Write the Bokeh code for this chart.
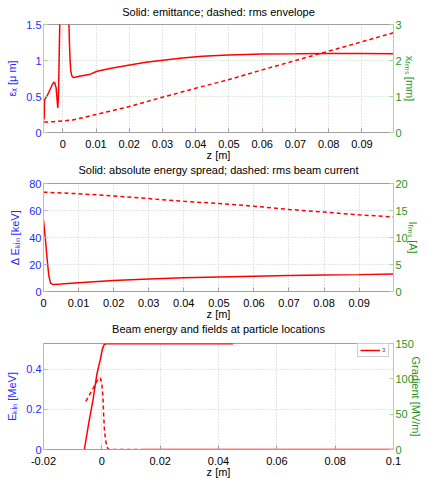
from bokeh.plotting import figure
from bokeh.models import Range1d, LinearAxis, FixedTicker, CustomJSTickFormatter, Legend, LegendItem, Title
from bokeh.layouts import column
from bokeh.embed import file_html
from bokeh.resources import INLINE

# ---------------- data ----------------
# Panel 1: emittance (um) and rms envelope (mm) vs z (m)
z_emit = [-0.0056, -0.0055, -0.0053, -0.0048, -0.0040, -0.0032, -0.0027, -0.0024, -0.0020,
          -0.0017, -0.0015, -0.0013, -0.0011, -0.0008, -0.0004, 0.0, 0.0008, 0.0014, 0.0018,
          0.0020, 0.0022, 0.0024, 0.0027, 0.0030, 0.0034, 0.005, 0.0083, 0.0103, 0.015,
          0.0206, 0.025, 0.0314, 0.036, 0.042, 0.0498, 0.06, 0.07, 0.08, 0.09, 0.0995]
emit = [0.18, 0.44, 0.47, 0.50, 0.58, 0.66, 0.70, 0.69, 0.62,
        0.45, 0.34, 0.50, 1.00, 1.80, 3.0, 3.6, 3.2, 2.2, 1.6,
        1.25, 1.0, 0.86, 0.79, 0.77, 0.765, 0.78, 0.81, 0.85, 0.895,
        0.94, 0.975, 1.01, 1.035, 1.06, 1.075, 1.09, 1.093, 1.097, 1.096, 1.093]
z_env = [-0.0056, -0.003, 0.0, 0.003, 0.006, 0.01, 0.015, 0.02, 0.03, 0.04, 0.05,
         0.06, 0.07, 0.08, 0.09, 0.0995]
xrms = [0.29, 0.30, 0.32, 0.35, 0.41, 0.50, 0.61, 0.72, 0.98, 1.23, 1.47,
        1.74, 2.0, 2.26, 2.52, 2.77]

# Panel 2: energy spread (keV) and rms current (A)
z_spread = [0.0, 0.0005, 0.001, 0.0015, 0.002, 0.0025, 0.003, 0.005, 0.01, 0.02, 0.03,
            0.04, 0.05, 0.06, 0.07, 0.08, 0.09, 0.0998]
dE = [53, 40, 25, 12, 6.2, 5.4, 5.2, 5.5, 6.5, 8.2, 9.3,
      10.2, 10.8, 11.3, 11.8, 12.2, 12.5, 12.9]
z_cur = [0.0, 0.01, 0.02, 0.03, 0.04, 0.05, 0.06, 0.07, 0.08, 0.09, 0.0998]
Irms = [18.4, 18.1, 17.7, 17.2, 16.7, 16.3, 15.8, 15.2, 14.7, 14.2, 13.8]

# Panel 3: beam energy (MeV) and fields (MV/m)
z_ekin = [-0.0060, -0.0045, -0.0030, -0.0017, -0.0005, 0.0002, 0.0008, 0.0015, 0.045]
ekin = [0.0, 0.13, 0.25, 0.375, 0.45, 0.50, 0.523, 0.527, 0.527]
z_grad = [-0.0055, -0.0040, -0.0028, -0.0019, -0.0011, -0.0005, 0.0, 0.0004, 0.0006,
          0.0009, 0.0013, 0.0017, 0.0023, 0.014]
grad = [68, 79, 88, 95, 101, 101, 93, 74, 51, 27, 13, 4, 0, 0]
z_field2 = [0.014, 0.1]
field2 = [0, 0]

ticks_z1 = [0, 0.01, 0.02, 0.03, 0.04, 0.05, 0.06, 0.07, 0.08, 0.09]
ticks_z3 = [-0.02, 0, 0.02, 0.04, 0.06, 0.08, 0.1]
ticks_emit = [0, 0.5, 1, 1.5]
ticks_xrms = [0, 1, 2, 3]
ticks_dE = [0, 20, 40, 60, 80]
ticks_I = [0, 5, 10, 15, 20]
ticks_ekin = [0, 0.2, 0.4]
ticks_grad = [0, 50, 100, 150]

titles = ["Solid: emittance; dashed: rms envelope",
          "Solid: absolute energy spread; dashed: rms beam current",
          "Beam energy and fields at particle locations"]

# ---------------- styling ----------------
FONT = "Liberation Sans"
BLUE = "#2a2aff"
GREEN = "#1e961e"
BLUE_L = "#b4b4f0"
GREEN_L = "#a8d8a8"
GRAY = "#a0a0a0"
RED = "#ff0000"
fmt = CustomJSTickFormatter(code="return String(Math.round(tick*10000)/10000)")


def make_title(text, standoff):
    return Title(text=text, align="center", vertical_align="top", standoff=standoff,
                 text_font=FONT, text_font_size="11px", text_font_style="normal",
                 text_color="black")


def style_axis(ax, color_line, color_text, ticks):
    ax.ticker = FixedTicker(ticks=ticks)
    ax.formatter = fmt
    ax.axis_line_color = color_line
    ax.major_tick_line_color = color_line
    ax.major_tick_in = 4
    ax.major_tick_out = 0
    ax.minor_tick_line_color = None
    ax.major_label_text_color = color_text
    ax.major_label_text_font = FONT
    ax.major_label_text_font_size = "11px"
    ax.major_label_standoff = 2
    ax.axis_label_text_color = color_text
    ax.axis_label_text_font = FONT
    ax.axis_label_text_font_size = "11px"
    ax.axis_label_text_font_style = "normal"


def make_fig(xr, yr, yr2, xticks, yticks, y2ticks, ylab, y2lab, ygrid_color,
             frame_h, top, bottom, left_line, label_standoff2):
    p = figure(frame_width=350, frame_height=frame_h, x_range=Range1d(*xr), y_range=Range1d(*yr),
               output_backend="svg", toolbar_location=None,
               min_border_left=43, min_border_right=30, min_border_top=top, min_border_bottom=bottom)
    p.extra_y_ranges = {"r": Range1d(*yr2)}
    p.outline_line_color = GRAY
    p.background_fill_color = "white"
    p.border_fill_color = "white"
    xa = p.xaxis[0]
    style_axis(xa, GRAY, "black", xticks)
    xa.major_label_standoff = 7
    xa.axis_label = "z [m]"
    xa.axis_label_standoff = -2
    ya = p.yaxis[0]
    style_axis(ya, left_line, BLUE, yticks)
    ya.axis_label = ylab
    ya.axis_label_standoff = 5
    ra = LinearAxis(y_range_name="r")
    style_axis(ra, GREEN_L, GREEN, y2ticks)
    ra.axis_label = y2lab
    ra.axis_label_standoff = label_standoff2
    p.add_layout(ra, "right")
    p.xgrid.grid_line_color = "#c8c8c8"
    p.xgrid.grid_line_dash = "1 2"
    p.ygrid.grid_line_color = ygrid_color
    p.ygrid.grid_line_dash = "1 2"
    return p


p1 = make_fig((-0.0058, 0.0995), (0, 1.5), (0, 3), ticks_z1, ticks_emit, ticks_xrms,
              "\u03b5\u2093 [\u03bc m]", "x\u1d63\u2098\u209b [mm]", "#b8dcb8", 108, 24, 46, GREEN_L, -1)
p1.add_layout(make_title(titles[0], 9), "above")
p1.add_layout(make_title(titles[1], 0), "below")
p1.line(z_emit, emit, line_color=RED, line_width=1.5)
p1.line(z_env, xrms, line_color=RED, line_width=1.5, line_dash="4 3", y_range_name="r")

p2 = make_fig((0, 0.0998), (0, 80), (0, 20), ticks_z1, ticks_dE, ticks_I,
              "\u0394 E\u2096\u1d62\u2099 [keV]", "I\u1d63\u2098\u209b [A]", "#c8c8f0", 108, 5, 46, BLUE_L, -4)
p2.add_layout(make_title(titles[2], 0), "below")
p2.line(z_spread, dE, line_color=RED, line_width=1.5)
p2.line(z_cur, Irms, line_color=RED, line_width=1.5, line_dash="4 3", y_range_name="r")

p3 = make_fig((-0.02, 0.1), (0, 0.528), (0, 150), ticks_z3, ticks_ekin, ticks_grad,
              "E\u2096\u1d62\u2099 [MeV]", "Gradient [MV/m]", "#c8c8f0", 106, 6, 28, BLUE_L, -7)
r_e = p3.line(z_ekin, ekin, line_color=RED, line_width=1.5)
p3.line(z_grad, grad, line_color=RED, line_width=1.5, line_dash="4 3", y_range_name="r")
p3.line(z_field2, field2, line_color=RED, line_width=1.5, y_range_name="r")
leg = Legend(items=[LegendItem(label="3", renderers=[r_e])], location=(314, 92))
leg.label_text_font_size = "6px"
leg.label_text_font = FONT
leg.glyph_width = 20
leg.glyph_height = 8
leg.label_width = 4
leg.label_height = 8
leg.padding = 2
leg.margin = 0
leg.spacing = 0
leg.label_standoff = 2
leg.border_line_color = GRAY
p3.add_layout(leg)

layout = column(p1, p2, p3)
open("out.html", "w").write(file_html(layout, INLINE))
